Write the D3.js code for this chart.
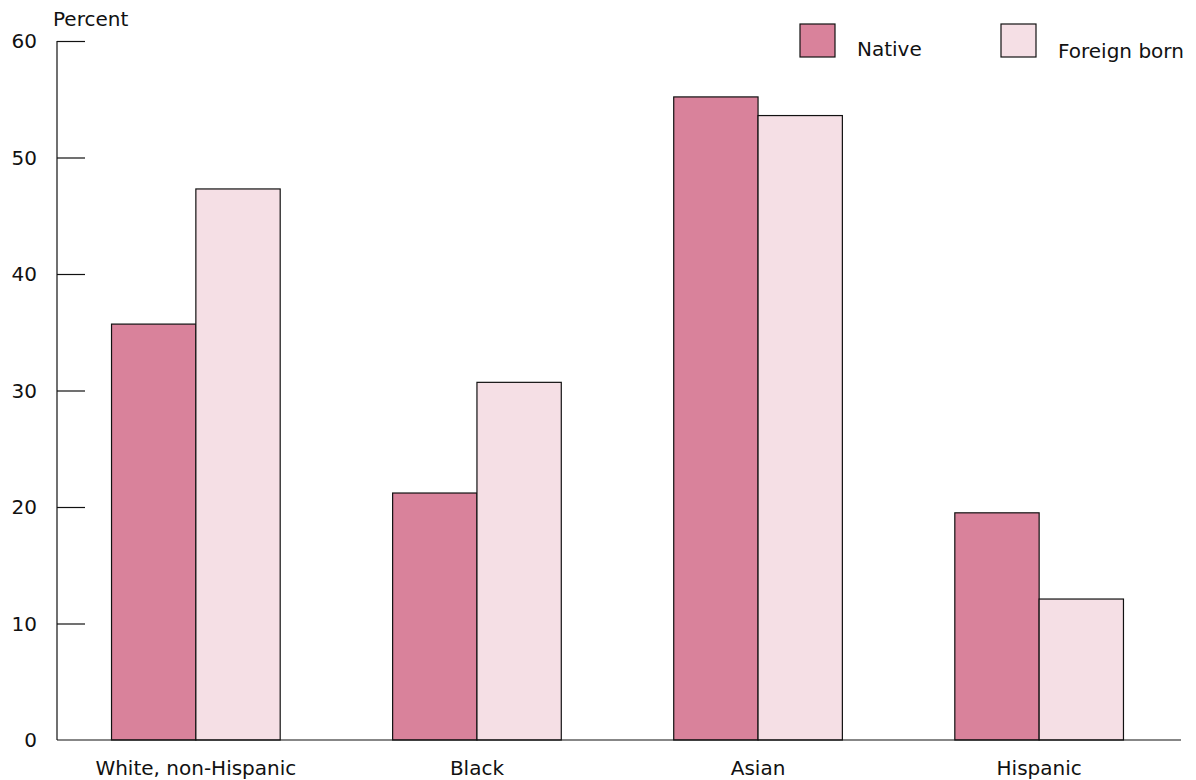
<!DOCTYPE html>
<html><head><meta charset="utf-8">
<script src="https://cdn.jsdelivr.net/npm/d3@7"></script>
<style>body{margin:0;background:#fff;} text{font-family:"DejaVu Sans",sans-serif;fill:#111;}</style>
</head><body>
<svg id="c" width="1196" height="780"></svg>
<script>
const categories = ["White, non-Hispanic", "Black", "Asian", "Hispanic"];
const seriesNames = ["Native", "Foreign born"];
const nativeValues = [35.7, 21.2, 55.2, 19.5];
const foreignValues = [47.3, 30.7, 53.6, 12.1];
const yTicks = [0, 10, 20, 30, 40, 50, 60];
const colors = ["#d9829b", "#f5dfe5"];

const svg = d3.select("#c");
const x0 = 57, x1 = 1181, yTop = 41, yBot = 740;
const y = d3.scaleLinear().domain([0, 60]).range([yBot, yTop]);
const xb = d3.scaleBand().domain(categories).range([x0, 1178]).paddingInner(0.4).paddingOuter(0.194);
const xs = d3.scaleBand().domain(seriesNames).range([0, xb.bandwidth()]);
const fontSize = 20;

// y axis
const yAxis = d3.axisRight(y).tickValues(yTicks).tickSize(28).tickFormat(() => "");
const gy = svg.append("g").attr("transform", `translate(${x0},0)`).call(yAxis);
gy.select(".domain").remove();
gy.selectAll(".tick line").attr("stroke", "#111").attr("stroke-width", 1.2);
gy.selectAll(".tick").filter(d => d === 0).select("line").remove();
svg.append("line").attr("x1", x0).attr("x2", x0).attr("y1", yTop).attr("y2", yBot).attr("stroke", "#111").attr("stroke-width", 1.2);
svg.selectAll(".ylab").data(yTicks).enter().append("text")
  .attr("x", 37).attr("y", d => y(d) + 7).attr("text-anchor", "end").attr("font-size", fontSize).text(d => d);
svg.append("text").attr("x", 53).attr("y", 26).attr("font-size", fontSize).text("Percent");

// bars
const data = categories.map((c, i) => ({c, vals: [nativeValues[i], foreignValues[i]]}));
const g = svg.selectAll(".grp").data(data).enter().append("g").attr("transform", d => `translate(${xb(d.c)},0)`);
g.selectAll("rect").data(d => d.vals.map((v, j) => ({v, s: seriesNames[j], j}))).enter().append("rect")
  .attr("x", d => xs(d.s)).attr("width", xs.bandwidth())
  .attr("y", d => y(d.v)).attr("height", d => yBot - y(d.v))
  .attr("fill", d => colors[d.j]).attr("stroke", "#111").attr("stroke-width", 1.2);

// x axis
svg.append("line").attr("x1", x0).attr("x2", x1).attr("y1", yBot).attr("y2", yBot).attr("stroke", "#111").attr("stroke-width", 1.2);
svg.selectAll(".xlab").data(categories).enter().append("text")
  .attr("x", d => xb(d) + xb.bandwidth() / 2).attr("y", 775).attr("text-anchor", "middle").attr("font-size", fontSize).text(d => d);

// legend
const legendX = [800, 1001], legendTextX = [857, 1058], legendTextY = [56, 58];
seriesNames.forEach((s, i) => {
  svg.append("rect").attr("x", legendX[i]).attr("y", 24).attr("width", 35).attr("height", 33)
    .attr("fill", colors[i]).attr("stroke", "#111").attr("stroke-width", 1.2);
  svg.append("text").attr("x", legendTextX[i]).attr("y", legendTextY[i]).attr("font-size", fontSize).text(s);
});
</script>
</body></html>
